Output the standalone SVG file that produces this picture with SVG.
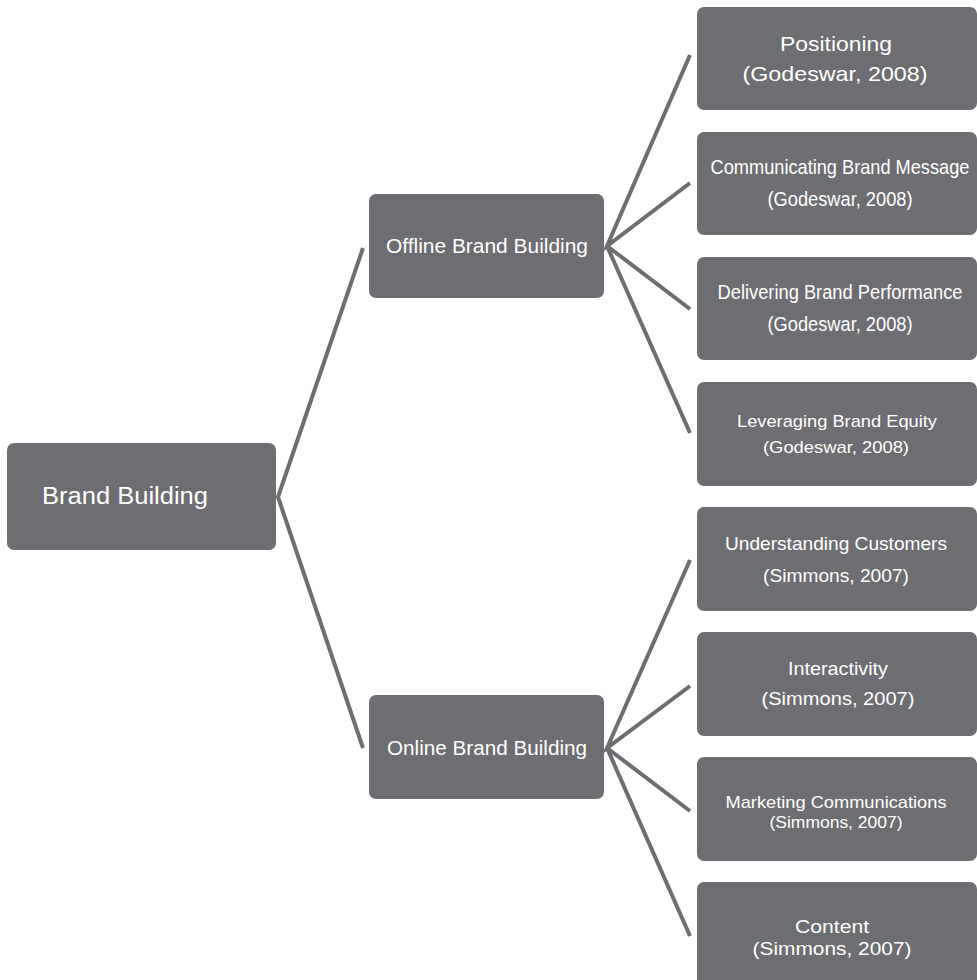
<svg xmlns="http://www.w3.org/2000/svg" width="977" height="980" viewBox="0 0 977 980">
<style>
.b{fill:#6d6e71}
.t{fill:#ffffff;font-family:"Liberation Sans",Arial,sans-serif;text-anchor:middle}
.c{stroke:#6d6e71;stroke-width:4;fill:none;stroke-linecap:butt}
</style>
<rect width="977" height="980" fill="#ffffff"/>
<g id="connectors">
<path class="c" d="M363,248 L278,497 L363,748"/>
<path class="c" d="M690,55 L607,246 L690,183 M607,246 L690,309 M607,246 L690,433"/>
<path class="c" d="M690,560 L607,748 L690,686 M607,748 L690,811 M607,748 L690,936"/>
</g>
<g id="brand-building"><rect class="b" x="7" y="443" width="269" height="107" rx="7"/><text class="t" x="125" y="504" font-size="23" textLength="166" lengthAdjust="spacingAndGlyphs">Brand Building</text></g>
<g id="offline"><rect class="b" x="369" y="194" width="235" height="104" rx="7"/><text class="t" x="487" y="253" font-size="20" textLength="202" lengthAdjust="spacingAndGlyphs">Offline Brand Building</text></g>
<g id="online"><rect class="b" x="369" y="695" width="235" height="104" rx="7"/><text class="t" x="487" y="755" font-size="20" textLength="200" lengthAdjust="spacingAndGlyphs">Online Brand Building</text></g>
<g id="positioning"><rect class="b" x="697" y="7" width="280" height="103" rx="7"/><text class="t" x="836" y="51" font-size="21" textLength="112" lengthAdjust="spacingAndGlyphs">Positioning</text><text class="t" x="835" y="81" font-size="21" textLength="185" lengthAdjust="spacingAndGlyphs">(Godeswar, 2008)</text></g>
<g id="communicating"><rect class="b" x="697" y="132" width="280" height="103" rx="7"/><text class="t" transform="translate(840,174) scale(0.91,1)" font-size="20">Communicating Brand Message</text><text class="t" x="840" y="206" font-size="20" textLength="145" lengthAdjust="spacingAndGlyphs">(Godeswar, 2008)</text></g>
<g id="delivering"><rect class="b" x="697" y="257" width="280" height="103" rx="7"/><text class="t" transform="translate(840,299) scale(0.915,1)" font-size="20">Delivering Brand Performance</text><text class="t" x="840" y="331" font-size="20" textLength="145" lengthAdjust="spacingAndGlyphs">(Godeswar, 2008)</text></g>
<g id="leveraging"><rect class="b" x="697" y="382" width="280" height="104" rx="7"/><text class="t" x="837" y="427" font-size="17" textLength="200" lengthAdjust="spacingAndGlyphs">Leveraging Brand Equity</text><text class="t" x="836" y="453" font-size="17" textLength="146" lengthAdjust="spacingAndGlyphs">(Godeswar, 2008)</text></g>
<g id="understanding"><rect class="b" x="697" y="507" width="280" height="104" rx="7"/><text class="t" x="836" y="550" font-size="19" textLength="222" lengthAdjust="spacingAndGlyphs">Understanding Customers</text><text class="t" x="836" y="582" font-size="19" textLength="146" lengthAdjust="spacingAndGlyphs">(Simmons, 2007)</text></g>
<g id="interactivity"><rect class="b" x="697" y="632" width="280" height="104" rx="7"/><text class="t" x="838" y="675" font-size="19" textLength="100" lengthAdjust="spacingAndGlyphs">Interactivity</text><text class="t" x="838" y="705" font-size="19" textLength="153" lengthAdjust="spacingAndGlyphs">(Simmons, 2007)</text></g>
<g id="marketing"><rect class="b" x="697" y="757" width="280" height="104" rx="7"/><text class="t" x="836" y="808" font-size="17" textLength="221" lengthAdjust="spacingAndGlyphs">Marketing Communications</text><text class="t" x="836" y="828" font-size="17" textLength="133" lengthAdjust="spacingAndGlyphs">(Simmons, 2007)</text></g>
<g id="content"><rect class="b" x="697" y="882" width="280" height="104" rx="7"/><text class="t" x="832" y="933" font-size="19" textLength="74" lengthAdjust="spacingAndGlyphs">Content</text><text class="t" x="832" y="955" font-size="19" textLength="159" lengthAdjust="spacingAndGlyphs">(Simmons, 2007)</text></g>
</svg>
